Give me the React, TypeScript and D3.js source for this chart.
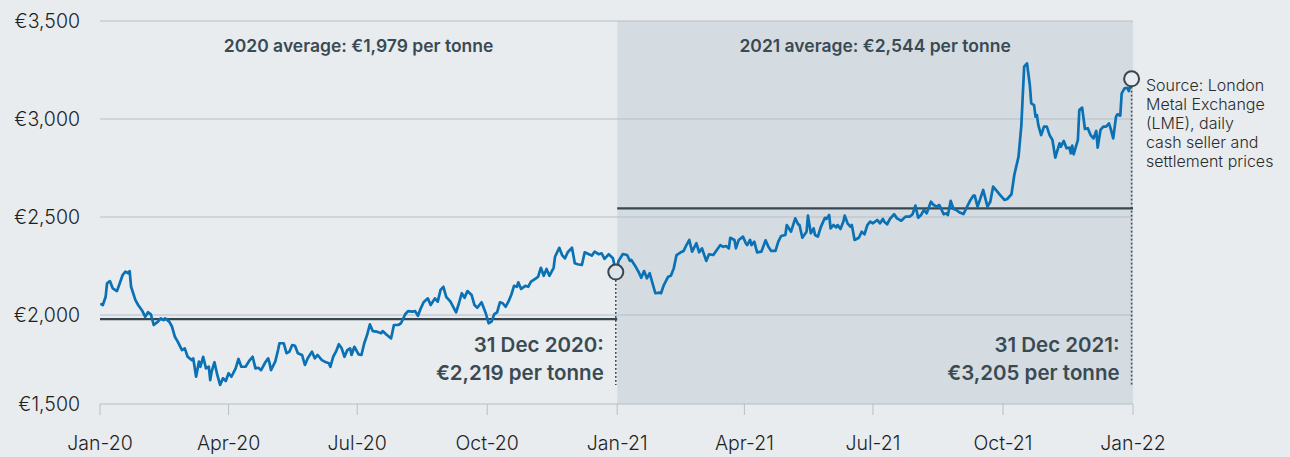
import React, { useEffect } from "react";
import * as d3 from "d3";

const dates: string[] = [
  "2020-01-02","2020-01-03","2020-01-05","2020-01-06","2020-01-08","2020-01-10","2020-01-13","2020-01-15","2020-01-17","2020-01-19",
  "2020-01-21","2020-01-22","2020-01-23","2020-01-26","2020-01-28","2020-01-31","2020-02-02","2020-02-04","2020-02-06","2020-02-08",
  "2020-02-11","2020-02-13","2020-02-15","2020-02-16","2020-02-19","2020-02-21","2020-02-23","2020-02-25","2020-02-28","2020-03-01",
  "2020-03-03","2020-03-06","2020-03-07","2020-03-09","2020-03-11","2020-03-12","2020-03-14","2020-03-16","2020-03-18","2020-03-19",
  "2020-03-20","2020-03-22","2020-03-24","2020-03-26","2020-03-28","2020-03-30","2020-04-01","2020-04-03","2020-04-06","2020-04-08",
  "2020-04-10","2020-04-13","2020-04-16","2020-04-18","2020-04-20","2020-04-22","2020-04-24","2020-04-27","2020-04-29","2020-04-30",
  "2020-05-01","2020-05-04","2020-05-06","2020-05-07","2020-05-10","2020-05-12","2020-05-14","2020-05-16","2020-05-18","2020-05-20",
  "2020-05-23","2020-05-25","2020-05-27","2020-05-30","2020-06-01","2020-06-03","2020-06-06","2020-06-08","2020-06-11","2020-06-12",
  "2020-06-14","2020-06-16","2020-06-18","2020-06-20","2020-06-22","2020-06-24","2020-06-26","2020-06-27","2020-06-29","2020-07-02",
  "2020-07-04","2020-07-06","2020-07-08","2020-07-10","2020-07-12","2020-07-15","2020-07-18","2020-07-19","2020-07-22","2020-07-25",
  "2020-07-27","2020-07-30","2020-08-01","2020-08-04","2020-08-06","2020-08-09","2020-08-11","2020-08-13","2020-08-15","2020-08-17",
  "2020-08-20","2020-08-22","2020-08-25","2020-08-27","2020-08-29","2020-08-31","2020-09-02","2020-09-05","2020-09-09","2020-09-11",
  "2020-09-13","2020-09-15","2020-09-17","2020-09-20","2020-09-22","2020-09-24","2020-09-27","2020-09-30","2020-10-02","2020-10-04",
  "2020-10-06","2020-10-08","2020-10-10","2020-10-12","2020-10-14","2020-10-16","2020-10-18","2020-10-20","2020-10-22","2020-10-23",
  "2020-10-25","2020-10-28","2020-10-30","2020-11-01","2020-11-04","2020-11-06","2020-11-08","2020-11-10","2020-11-12","2020-11-14",
  "2020-11-17","2020-11-18","2020-11-21","2020-11-23","2020-11-25","2020-11-27","2020-11-30","2020-12-02","2020-12-04","2020-12-07",
  "2020-12-09","2020-12-12","2020-12-14","2020-12-16","2020-12-19","2020-12-21","2020-12-23","2020-12-26","2020-12-29","2020-12-31",
  "2021-01-02","2021-01-05","2021-01-08","2021-01-10","2021-01-11","2021-01-14","2021-01-16","2021-01-18","2021-01-20","2021-01-22",
  "2021-01-24","2021-01-26","2021-01-28","2021-01-31","2021-02-01","2021-02-03","2021-02-06","2021-02-08","2021-02-10","2021-02-12",
  "2021-02-15","2021-02-17","2021-02-19","2021-02-21","2021-02-23","2021-02-26","2021-02-28","2021-03-02","2021-03-05","2021-03-07",
  "2021-03-10","2021-03-12","2021-03-15","2021-03-17","2021-03-19","2021-03-21","2021-03-22","2021-03-25","2021-03-26","2021-03-28",
  "2021-03-31","2021-04-02","2021-04-03","2021-04-05","2021-04-06","2021-04-08","2021-04-10","2021-04-13","2021-04-16","2021-04-18",
  "2021-04-20","2021-04-23","2021-04-25","2021-04-27","2021-04-30","2021-05-01","2021-05-04","2021-05-07","2021-05-09","2021-05-10",
  "2021-05-12","2021-05-15","2021-05-16","2021-05-18","2021-05-20","2021-05-21","2021-05-23","2021-05-25","2021-05-28","2021-05-29",
  "2021-05-31","2021-06-01","2021-06-03","2021-06-05","2021-06-06","2021-06-08","2021-06-10","2021-06-11","2021-06-13","2021-06-15",
  "2021-06-16","2021-06-18","2021-06-21","2021-06-23","2021-06-25","2021-06-27","2021-06-29","2021-07-01","2021-07-04","2021-07-06",
  "2021-07-08","2021-07-09","2021-07-11","2021-07-13","2021-07-16","2021-07-18","2021-07-21","2021-07-24","2021-07-27","2021-07-29",
  "2021-07-31","2021-08-02","2021-08-04","2021-08-06","2021-08-08","2021-08-11","2021-08-13","2021-08-15","2021-08-17","2021-08-20",
  "2021-08-22","2021-08-23","2021-08-25","2021-08-27","2021-08-29","2021-08-31","2021-09-03","2021-09-05","2021-09-08","2021-09-10",
  "2021-09-11","2021-09-13","2021-09-15","2021-09-17","2021-09-20","2021-09-22","2021-09-24","2021-09-27","2021-09-29","2021-10-02",
  "2021-10-04","2021-10-07","2021-10-09","2021-10-12","2021-10-14","2021-10-15","2021-10-16","2021-10-18","2021-10-20","2021-10-21",
  "2021-10-23","2021-10-24","2021-10-25","2021-10-26","2021-10-28","2021-10-30","2021-11-01","2021-11-03","2021-11-05","2021-11-07",
  "2021-11-10","2021-11-11","2021-11-13","2021-11-15","2021-11-17","2021-11-18","2021-11-19","2021-11-20","2021-11-23","2021-11-24",
  "2021-11-26","2021-11-28","2021-11-30","2021-12-02","2021-12-04","2021-12-06","2021-12-07","2021-12-09","2021-12-11","2021-12-13",
  "2021-12-15","2021-12-16","2021-12-18","2021-12-20","2021-12-21","2021-12-23","2021-12-24","2021-12-26","2021-12-28","2021-12-29",
  "2021-12-30","2021-12-31",
];

const prices: number[] = [
  2055,2051,2093,2162,2173,2136,2122,2162,2204,2221,
  2213,2224,2144,2077,2051,2020,1991,2014,2003,1949,
  1966,1983,1974,1983,1966,1940,1889,1864,1821,1830,
  1787,1770,1779,1685,1762,1736,1787,1728,1736,1668,
  1711,1759,1694,1643,1677,1663,1703,1685,1728,1776,
  1736,1736,1770,1787,1728,1731,1719,1759,1779,1754,
  1719,1762,1821,1856,1856,1805,1813,1847,1843,1805,
  1796,1745,1779,1813,1779,1796,1770,1762,1754,1736,
  1787,1813,1851,1830,1787,1821,1830,1796,1838,1799,
  1796,1856,1898,1952,1918,1915,1907,1918,1898,1881,
  1949,1949,1958,2004,2020,2017,2020,1996,2034,2065,
  2085,2051,2085,2068,2128,2144,2093,2068,2014,2060,
  2111,2088,2122,2102,2051,2037,2065,2009,1958,1966,
  2004,2014,2065,2060,2042,2068,2102,2149,2144,2167,
  2133,2149,2144,2170,2184,2195,2241,2200,2235,2200,
  2241,2297,2343,2306,2289,2320,2343,2264,2259,2255,
  2320,2310,2303,2323,2310,2315,2286,2310,2290,2219,
  2276,2311,2306,2276,2281,2247,2221,2190,2224,2187,
  2213,2162,2111,2114,2111,2153,2195,2200,2238,2306,
  2320,2327,2357,2383,2323,2366,2320,2340,2276,2310,
  2306,2327,2357,2348,2352,2340,2394,2383,2340,2383,
  2400,2366,2357,2383,2357,2374,2320,2323,2381,2348,
  2327,2327,2374,2403,2408,2459,2425,2493,2463,2459,
  2394,2425,2507,2417,2442,2408,2400,2447,2496,2490,
  2510,2442,2459,2447,2459,2439,2476,2507,2468,2451,
  2459,2383,2394,2425,2412,2459,2476,2468,2485,2468,
  2490,2476,2463,2490,2514,2493,2481,2502,2502,2514,
  2558,2496,2510,2536,2519,2578,2561,2553,2561,2514,
  2519,2510,2582,2541,2536,2524,2515,2544,2587,2609,
  2609,2553,2595,2638,2553,2578,2655,2629,2612,2587,
  2592,2616,2714,2808,2969,3122,3267,3284,3173,3080,
  3071,3012,3020,2969,2918,2961,2961,2918,2893,2803,
  2876,2859,2888,2851,2854,2825,2864,2820,2893,3046,
  3058,2949,2953,2918,2901,2939,2854,2944,2961,2961,
  2978,2956,2901,3012,3024,3017,3131,3156,3159,3143,
  3165,3205,
];

const yTickValues: number[] = [1500, 2000, 2500, 3000, 3500];
const yTickLabels: string[] = ["€1,500", "€2,000", "€2,500", "€3,000", "€3,500"];
const xTickDates: string[] = ["2020-01-01","2020-04-01","2020-07-01","2020-10-01","2021-01-01","2021-04-01","2021-07-01","2021-10-01","2022-01-01"];
const xTickLabels: string[] = ["Jan-20","Apr-20","Jul-20","Oct-20","Jan-21","Apr-21","Jul-21","Oct-21","Jan-22"];

const yearStarts: string[] = ["2020-01-01", "2021-01-01", "2022-01-01"];
const averages: number[] = [1979, 2544];
const averageLabels: string[] = ["2020 average: €1,979 per tonne", "2021 average: €2,544 per tonne"];
const endDates: string[] = ["2020-12-31", "2021-12-31"];
const endValues: number[] = [2219, 3205];
const endLabels: string[][] = [["31 Dec 2020:", "€2,219 per tonne"], ["31 Dec 2021:", "€3,205 per tonne"]];
const sourceLines: string[] = ["Source: London", "Metal Exchange", "(LME), daily", "cash seller and", "settlement prices"];

const W = 1290;
const H = 457;
const BG = "#e8ecef";
const SHADE = "#d4dce2";
const GRID = "#b6bfc6";
const DARK = "#38474f";
const LINE = "#0a71b4";
const FONT = "Inter, 'Noto Sans', sans-serif";

export default function App() {
  useEffect(() => {
    document.body.style.margin = "0";
    document.body.style.background = BG;
  }, []);

  const parse = d3.timeParse("%Y-%m-%d");
  const x = d3.scaleTime().domain([parse("2020-01-01")!, parse("2022-01-01")!]).range([100, 1133]);
  const y = d3.scaleLinear().domain([1546, 3500]).range([404, 21]).clamp(true);

  const data = dates.map((d, i) => ({ date: parse(d)!, v: prices[i] }));
  const line = d3.line<{ date: Date; v: number }>().x((d) => x(d.date)).y((d) => y(d.v));

  const ys = yearStarts.map((d) => x(parse(d)!));
  const top = y(3500);
  const bottom = y(1546);

  return (
    <svg width={W} height={H} style={{ display: "block", fontFamily: FONT }}>
      <rect x={0} y={0} width={W} height={H} fill={BG} />
      <rect x={ys[1]} y={top} width={ys[2] - ys[1]} height={bottom - top} fill={SHADE} />

      {yTickValues.slice(1).map((v) => (
        <line key={v} x1={ys[0]} x2={ys[2]} y1={y(v)} y2={y(v)} stroke={GRID} strokeWidth={1} />
      ))}
      <line x1={ys[0]} x2={ys[2]} y1={bottom} y2={bottom} stroke={GRID} strokeWidth={1} />

      {yTickValues.map((v, i) => (
        <text key={v} x={80} y={y(v)} dy="0.35em" textAnchor="end" fontSize={19.5} fontWeight={300} fill="#1f1f1f">
          {yTickLabels[i]}
        </text>
      ))}

      {xTickDates.map((d, i) => {
        const xx = x(parse(d)!);
        return (
          <g key={d}>
            <line x1={xx} x2={xx} y1={bottom} y2={bottom + 11} stroke={GRID} strokeWidth={1} />
            <text x={xx} y={450} textAnchor="middle" fontSize={19.5} fontWeight={300} fill="#1f1f1f">
              {xTickLabels[i]}
            </text>
          </g>
        );
      })}

      {averages.map((a, i) => (
        <g key={a}>
          <line x1={ys[i]} x2={ys[i + 1]} y1={y(a)} y2={y(a)} stroke={DARK} strokeWidth={2.2} />
          <text x={(ys[i] + ys[i + 1]) / 2} y={52} textAnchor="middle" fontSize={17.5} fontWeight={600} fill="#3a4a53">
            {averageLabels[i]}
          </text>
        </g>
      ))}

      <path d={line(data) || ""} fill="none" stroke={LINE} strokeWidth={2.7} strokeLinejoin="round" strokeLinecap="round" />

      {endDates.map((d, i) => {
        const cx = x(parse(d)!);
        const cy = y(endValues[i]);
        return (
          <g key={d}>
            <line x1={cx} x2={cx} y1={cy + 8} y2={385} stroke={DARK} strokeWidth={1.6} strokeDasharray="1.6,2.4" />
            <circle cx={cx} cy={cy} r={7.5} fill={i === 0 ? "#dde3e8" : BG} stroke={DARK} strokeWidth={2} />
            <text x={cx - 12} y={352} textAnchor="end" fontSize={20.5} fontWeight={600} fill="#3a4a53">
              {endLabels[i][0]}
            </text>
            <text x={cx - 12} y={380} textAnchor="end" fontSize={20.5} fontWeight={600} fill="#3a4a53">
              {endLabels[i][1]}
            </text>
          </g>
        );
      })}

      {sourceLines.map((s, i) => (
        <text key={s} x={1146} y={91 + i * 19} fontSize={16} fontWeight={300} fill="#2b2b2b">
          {s}
        </text>
      ))}
    </svg>
  );
}
